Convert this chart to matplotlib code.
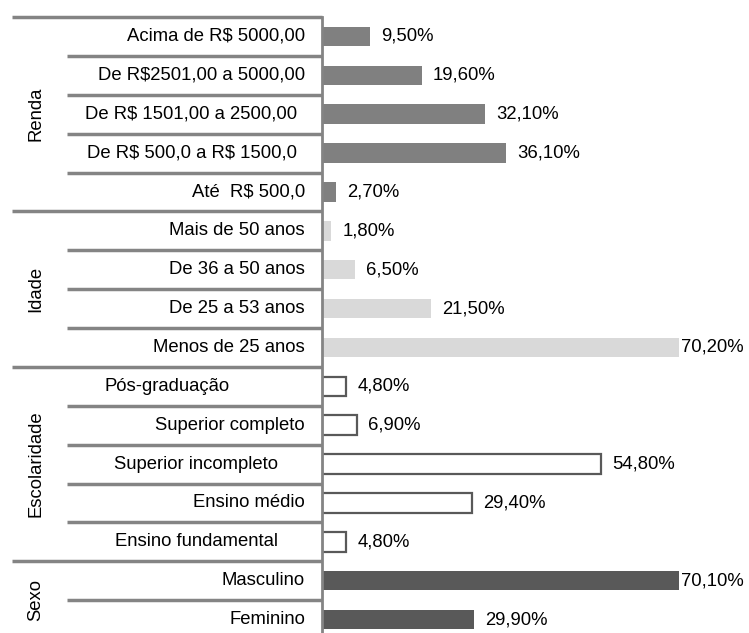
import matplotlib.pyplot as plt
import matplotlib.transforms as mtransforms

plt.rcParams['font.family'] = ['Liberation Sans', 'DejaVu Sans']
plt.rcParams['text.parse_math'] = False  # labels contain "R$"

# data, top to bottom
groups = ['Renda', 'Idade', 'Escolaridade', 'Sexo']
renda_labels = ['Acima de R$ 5000,00', 'De R$2501,00 a 5000,00', 'De R$ 1501,00 a 2500,00',
                'De R$ 500,0 a R$ 1500,0', 'Até  R$ 500,0']
renda_vals = [9.5, 19.6, 32.1, 36.1, 2.7]
idade_labels = ['Mais de 50 anos', 'De 36 a 50 anos', 'De 25 a 53 anos', 'Menos de 25 anos']
idade_vals = [1.8, 6.5, 21.5, 70.2]
escol_labels = ['Pós-graduação', 'Superior completo', 'Superior incompleto',
                'Ensino médio', 'Ensino fundamental']
escol_vals = [4.8, 6.9, 54.8, 29.4, 4.8]
sexo_labels = ['Masculino', 'Feminino']
sexo_vals = [70.1, 29.9]

group_labels = [renda_labels, idade_labels, escol_labels, sexo_labels]
group_vals = [renda_vals, idade_vals, escol_vals, sexo_vals]

# styles
faces = ['#808080', '#d9d9d9', 'white', '#595959']
edges = ['none', 'none', '#595959', 'none']
line_col = '#848484'
fs = 13.3
# category labels that end further left (pixels from the left)
label_end = {'De R$ 1501,00 a 2500,00': 297, 'De R$ 500,0 a R$ 1500,0': 297,
             'Pós-graduação': 230, 'Superior incompleto': 278, 'Ensino fundamental': 278}

W, H = 749, 633
fig = plt.figure(figsize=(W / 100, H / 100), dpi=100)
ax = fig.add_axes([322 / W, 1 - 639 / H, (745 - 322) / W, (639 - 17) / H])

n = sum(len(v) for v in group_vals)
ax.set_ylim(n - 0.5, -0.5)
ax.set_xlim(0, (745 - 322) / 5.09)
ax.axis('off')
ax.axvline(0, color=line_col, lw=2, clip_on=False)

tr = mtransforms.blended_transform_factory(fig.transFigure, ax.transData)

row = 0
for g, labels, vals, fc, ec in zip(groups, group_labels, group_vals, faces, edges):
    ys = list(range(row, row + len(vals)))
    lw = 1.6 if ec != 'none' else 0
    ax.barh(ys, vals, height=0.5, color=fc, edgecolor=ec, linewidth=lw)
    for y, v, lab in zip(ys, vals, labels):
        txt = f'{v:.2f}'.replace('.', ',') + '%'
        off = 1.5 if v > 65 else 8
        ax.annotate(txt, (v, y), xytext=(off, 0), textcoords='offset points',
                    va='center', ha='left', fontsize=fs)
        ax.text(label_end.get(lab, 305) / W, y, lab, transform=tr,
                ha='right', va='center', fontsize=fs)
    # separators
    ax.plot([12 / W, 322 / W], [row - 0.5, row - 0.5], transform=tr,
            color=line_col, lw=2.5, clip_on=False, solid_capstyle='butt')
    for y in ys[1:]:
        ax.plot([67 / W, 322 / W], [y - 0.5, y - 0.5], transform=tr,
                color=line_col, lw=2.5, clip_on=False, solid_capstyle='butt')
    ax.text(36 / W, (ys[0] + ys[-1]) / 2, g, transform=tr, rotation=90,
            ha='center', va='center', fontsize=fs)
    row += len(vals)

fig.savefig('out.png', dpi=100)
